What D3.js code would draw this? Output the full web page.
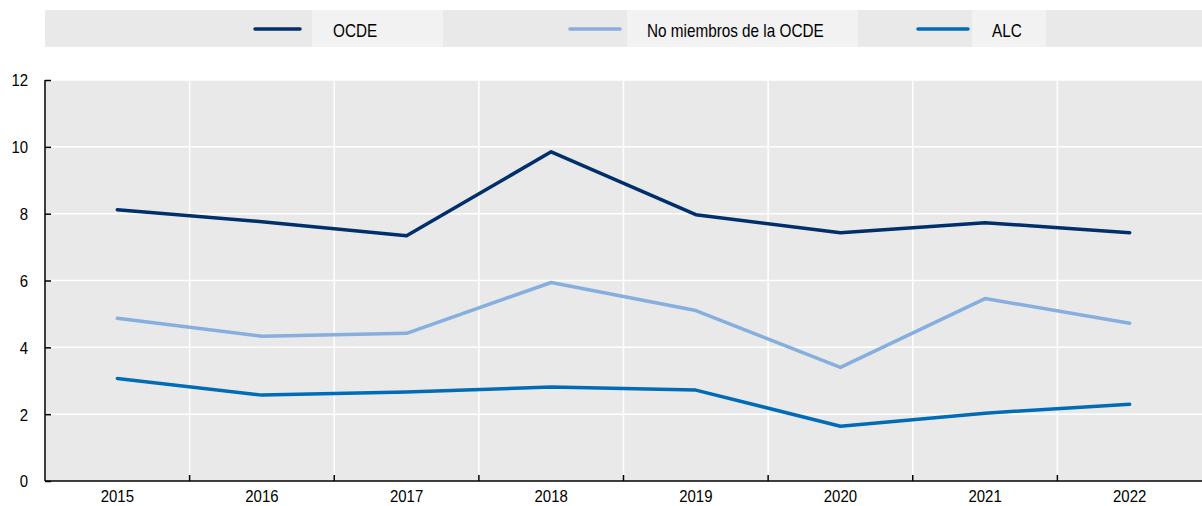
<!DOCTYPE html>
<html><head><meta charset="utf-8">
<script src="https://cdn.jsdelivr.net/npm/d3@7"></script>
<style>body{margin:0;background:#fff;}svg{display:block;font-family:"Liberation Sans",Arial,sans-serif;}</style>
</head><body><svg id="c" width="1202" height="506"></svg>
<script>
const years = ["2015","2016","2017","2018","2019","2020","2021","2022"];
const ocde = [8.12,7.76,7.34,9.85,7.97,7.43,7.73,7.43];
const noMiembros = [4.87,4.33,4.42,5.94,5.10,3.40,5.46,4.72];
const alc = [3.07,2.57,2.66,2.81,2.72,1.64,2.03,2.30];
const yTicks = [0,2,4,6,8,10,12];
const seriesNames = ["OCDE","No miembros de la OCDE","ALC"];
const colors = ["#002F6C","#86AEDF","#006BB6"];

const series = [ocde, noMiembros, alc];
const svg = d3.select("#c");
const L=45, R=1202, T=80, B=481;
const SX = 0.88;
const x = d3.scaleBand().domain(years).range([L,R]).padding(0);
const y = d3.scaleLinear().domain([0,12]).range([B,T]);

svg.append("rect").attr("x",L).attr("y",T).attr("width",R-L).attr("height",B-T).attr("fill","#E9E9E9");
// grid
svg.append("g").selectAll("line").data(yTicks.slice(1)).join("line")
  .attr("x1",L).attr("x2",R).attr("y1",d=>y(d)).attr("y2",d=>y(d)).attr("stroke","#fff").attr("stroke-width",1.5);
svg.append("g").selectAll("line").data(years.slice(1)).join("line")
  .attr("x1",d=>x(d)).attr("x2",d=>x(d)).attr("y1",T).attr("y2",B).attr("stroke","#fff").attr("stroke-width",1.5);

// lines
const line = d3.line().x((d,i)=>x(years[i])+x.bandwidth()/2).y(d=>y(d));
series.forEach((s,k)=>{
  svg.append("path").datum(s).attr("d",line).attr("fill","none")
    .attr("stroke",colors[k]).attr("stroke-width",3.5).attr("stroke-linecap","round").attr("stroke-linejoin","round");
});

// axes
const yAx = svg.append("g").attr("transform",`translate(${L},0)`)
  .call(d3.axisLeft(y).tickValues(yTicks).tickSize(-6).tickFormat(d3.format("d")));
yAx.select(".domain").attr("stroke","#000").attr("stroke-width",1.5).attr("d",`M0,${T}V${B}`);
yAx.selectAll(".tick line").attr("stroke","#000").attr("stroke-width",1.5);
yAx.selectAll("text").attr("font-size",17).attr("fill","#000").attr("x",-17/SX).attr("dy","0.35em")
  .attr("transform",`scale(${SX},1)`);

const xAx = svg.append("g").attr("transform",`translate(0,${B})`)
  .call(d3.axisBottom(x).tickSize(0));
xAx.select(".domain").attr("stroke","#000").attr("stroke-width",1.5).attr("d",`M${L},0H${R}`);
xAx.selectAll("text").attr("font-size",17).attr("fill","#000").attr("y",21).attr("dy",0)
  .attr("transform",`scale(${SX},1)`);
svg.append("g").selectAll("line").data(years.slice(1)).join("line")
  .attr("x1",d=>x(d)).attr("x2",d=>x(d)).attr("y1",B-6).attr("y2",B).attr("stroke","#000").attr("stroke-width",1.5);

// legend
const lg = svg.append("g");
lg.append("rect").attr("x",45).attr("y",10).attr("width",1157).attr("height",37).attr("fill","#E9E9E9");
const legItems = [
  {line:[255,300], box:[312,443], tx:333},
  {line:[570,620], box:[627,858], tx:647},
  {line:[918,968], box:[972,1046], tx:992}
];
legItems.forEach((it,k)=>{
  lg.append("rect").attr("x",it.box[0]).attr("y",10).attr("width",it.box[1]-it.box[0]).attr("height",37).attr("fill","#F2F2F2");
  lg.append("line").attr("x1",it.line[0]).attr("x2",it.line[1]).attr("y1",29).attr("y2",29)
    .attr("stroke",colors[k]).attr("stroke-width",3.5).attr("stroke-linecap","round");
  lg.append("text").attr("transform",`translate(${it.tx},37) scale(0.85,1)`).attr("font-size",18).attr("fill","#000").text(seriesNames[k]);
});
</script></body></html>
